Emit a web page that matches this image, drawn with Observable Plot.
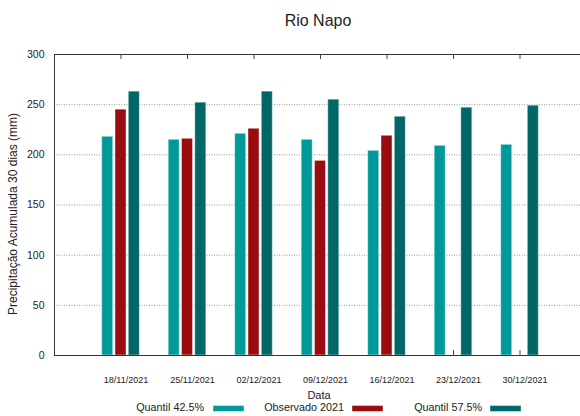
<!DOCTYPE html>
<html>
<head>
<meta charset="utf-8">
<script src="https://cdn.jsdelivr.net/npm/d3@7"></script>
<script src="https://cdn.jsdelivr.net/npm/@observablehq/plot@0.6"></script>
<style>
  html, body { margin: 0; padding: 0; background: #fff; overflow: hidden; }
  svg { display: block; }
</style>
</head>
<body>
<div id="chart"></div>
<script>
const dates = ["18/11/2021", "25/11/2021", "02/12/2021", "09/12/2021", "16/12/2021", "23/12/2021", "30/12/2021"];
const quantil425 = [218, 215, 221, 215, 204, 209, 210];
const observado2021 = [245, 216, 226, 194, 219, null, null];
const quantil575 = [263, 252, 263, 255, 238, 247, 249];
const seriesNames = ["Quantil 42.5%", "Observado 2021", "Quantil 57.5%"];
const seriesColors = ["#009999", "#990c0f", "#006666"];
const yTicks = [0, 50, 100, 150, 200, 250, 300];
const gridTicks = [50, 100, 150, 200, 250];

const seriesValues = [quantil425, observado2021, quantil575];
const rows = [];
dates.forEach((d, i) => {
  seriesValues.forEach((vals, s) => {
    if (vals[i] != null) rows.push({date: d, pos: i + 1, s, series: seriesNames[s], value: vals[i]});
  });
});
const positions = dates.map((d, i) => ({date: d, pos: i + 1}));

const offsets = [-0.2, 0, 0.2];
const hw = 0.083;

const W = 580, H = 416;
const chart = Plot.plot({
  width: W,
  height: H,
  marginLeft: 54,
  marginRight: 0,
  marginTop: 54,
  marginBottom: 61,
  style: {fontFamily: "'Liberation Sans', Arial, sans-serif", color: "#222", background: "#fff"},
  x: {type: "linear", domain: [0, 8], range: [54, 586], axis: null},
  y: {domain: [0, 300], axis: null},
  color: {domain: seriesNames, range: seriesColors},
  marks: [
    Plot.ruleY(gridTicks, {stroke: "#999", strokeDasharray: "1,1.5", strokeWidth: 1}),
    Plot.ruleX(positions, {x: "pos", y1: 0, y2: 5, stroke: "#444"}),
    Plot.rectY(rows, {
      x1: d => d.pos + offsets[d.s] - hw,
      x2: d => d.pos + offsets[d.s] + hw,
      y: "value",
      fill: "series",
      stroke: "#fff",
      strokeOpacity: 0.45,
      strokeWidth: 1
    }),
    Plot.ruleX(positions, {x: "pos", y1: 300, y2: 295, stroke: "#444"}),
    Plot.ruleY([0, 300], {stroke: "#333", strokeWidth: 1}),
    Plot.ruleX([0], {y1: 0, y2: 300, stroke: "#333", strokeWidth: 1}),
    Plot.axisY({ticks: yTicks, tickSize: 0, tickPadding: 10, fontSize: 10.5, label: null}),
    Plot.text(positions, {x: "pos", y: 0, text: "date", dy: 25, dx: 5, fontSize: 9, fill: "#222"})
  ]
});

document.getElementById("chart").appendChild(chart);

const svg = d3.select(chart);
const font = "'Liberation Sans', Arial, sans-serif";

svg.append("text")
  .attr("x", 318).attr("y", 20)
  .attr("text-anchor", "middle").attr("dominant-baseline", "central")
  .attr("font-family", font).attr("font-size", 16).attr("fill", "#222")
  .text("Rio Napo");

svg.append("text")
  .attr("transform", "translate(13,214) rotate(-90)")
  .attr("text-anchor", "middle").attr("dominant-baseline", "central")
  .attr("font-family", font).attr("font-size", 12).attr("fill", "#222")
  .text("Precipitação Acumulada 30 dias (mm)");

svg.append("text")
  .attr("x", 319).attr("y", 395)
  .attr("text-anchor", "middle").attr("dominant-baseline", "central")
  .attr("font-family", font).attr("font-size", 11).attr("fill", "#222")
  .text("Data");

const legendTextRight = [204, 344, 482];
const legendSwatchX = [213, 352, 490];
seriesNames.forEach((name, i) => {
  svg.append("text")
    .attr("x", legendTextRight[i]).attr("y", 407)
    .attr("text-anchor", "end").attr("dominant-baseline", "central")
    .attr("font-family", font).attr("font-size", 10.8).attr("fill", "#222")
    .text(name);
  svg.append("rect")
    .attr("x", legendSwatchX[i]).attr("y", 405.5)
    .attr("width", 31).attr("height", 6)
    .attr("fill", seriesColors[i])
    .attr("stroke", "#fff").attr("stroke-opacity", 0.45);
});
</script>
</body>
</html>
